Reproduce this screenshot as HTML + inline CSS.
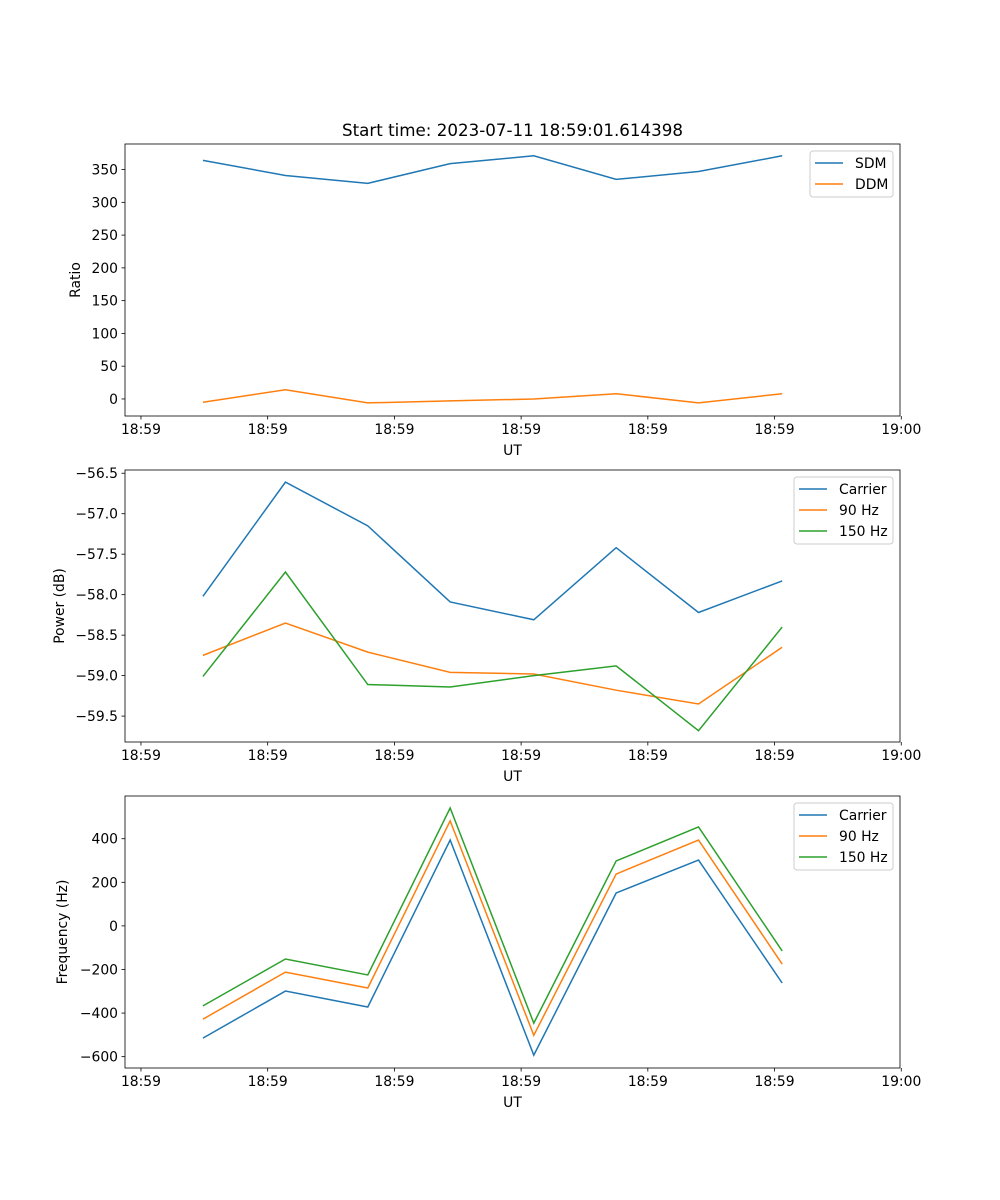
<!DOCTYPE html>
<html><head><meta charset="utf-8"><style>
html,body{margin:0;padding:0;background:#fff}
svg{display:block;font-family:"DejaVu Sans","Liberation Sans",sans-serif}
</style></head><body>
<svg id="fig" width="1000" height="1200" viewBox="0 0 1000 1200">
<text x="512.5" y="136" font-size="16.7" text-anchor="middle">Start time: 2023-07-11 18:59:01.614398</text>
</svg>
<script>
// time of each sample in seconds after 18:59:00
const times = [4.89, 11.4, 17.9, 24.4, 31.0, 37.5, 44.0, 50.6];
const xTickVals = [0, 10, 20, 30, 40, 50, 60];
const xTickLabels = ["18:59","18:59","18:59","18:59","18:59","18:59","19:00"];
const sdm = [364, 341, 329, 359, 371, 335, 347, 371];
const ddm = [-5, 14, -6, -3, 0, 8, -6, 8];
const ratioTicks = [0, 50, 100, 150, 200, 250, 300, 350];
const powCarrier = [-58.02, -56.61, -57.15, -58.09, -58.31, -57.42, -58.22, -57.83];
const pow90 = [-58.75, -58.35, -58.71, -58.96, -58.98, -59.18, -59.35, -58.65];
const pow150 = [-59.01, -57.72, -59.11, -59.14, -59.00, -58.88, -59.68, -58.40];
const powTicks = [-59.5, -59.0, -58.5, -58.0, -57.5, -57.0, -56.5];
const freqCarrier = [-515, -299, -372, 394, -593, 151, 302, -262];
const freq90 = [-428, -212, -285, 482, -502, 238, 394, -175];
const freq150 = [-367, -152, -225, 541, -446, 298, 454, -115];
const freqTicks = [-600, -400, -200, 0, 200, 400];

const NS = "http://www.w3.org/2000/svg";
const svg = document.getElementById('fig');
const C = ['#1f77b4', '#ff7f0e', '#2ca02c'];
function mk(tag, attrs, parent) {
  const e = document.createElementNS(NS, tag);
  for (const k in attrs) e.setAttribute(k, attrs[k]);
  (parent || svg).appendChild(e);
  return e;
}
const L = 125, R = 900, XMIN = -1.26, XMAX = 59.9;
const xs = t => L + (t - XMIN) / (XMAX - XMIN) * (R - L);

function panel(key, top, bottom, ymin, ymax, yTicks, yFmt, ylabel, series, names, legend) {
  const g = mk('g', {});
  
  
  const ys = v => bottom - (v - ymin) / (ymax - ymin) * (bottom - top);
  series.forEach((s, i) => {
    const p = mk('polyline', {points: s.map((v, j) => xs(times[j]) + ',' + ys(v)).join(' '), fill: 'none', stroke: C[i], 'stroke-width': 1.5}, g);
    
    
  });
  const fr = mk('rect', {x: L, y: top, width: R - L, height: bottom - top, fill: 'none', stroke: '#000', 'stroke-width': 0.8}, g);
  
  
  xTickVals.forEach((t, i) => {
    const x = xs(t);
    mk('line', {x1: x, x2: x, y1: bottom, y2: bottom + 3.5, stroke: '#000', 'stroke-width': 0.8}, g);
    const tx = mk('text', {x: x, y: bottom + 18, 'font-size': 13.9, 'text-anchor': 'middle'}, g);
    tx.textContent = xTickLabels[i];
    
    
  });
  const xl = mk('text', {x: (L + R) / 2, y: bottom + 39, 'font-size': 13.9, 'text-anchor': 'middle'}, g);
  xl.textContent = 'UT';
  
  
  yTicks.forEach(v => {
    const y = ys(v);
    mk('line', {x1: L - 3.5, x2: L, y1: y, y2: y, stroke: '#000', 'stroke-width': 0.8}, g);
    const tx = mk('text', {x: L - 7, y: y + 5, 'font-size': 13.9, 'text-anchor': 'end'}, g);
    tx.textContent = yFmt(v);
    
    
  });
  const yl = mk('text', {x: 0, y: 0, 'font-size': 13.9, 'text-anchor': 'middle', transform: 'translate(' + legend.ylx + ',' + ((top + bottom) / 2) + ') rotate(-90)'}, g);
  yl.textContent = ylabel;
  
  
  const lg = mk('g', {}, g);
  
  
  mk('rect', {x: legend.x, y: top + 7, width: 893 - legend.x, height: names.length * 21 + 4, rx: 3, fill: '#fff', 'fill-opacity': 0.8, stroke: '#ccc', 'stroke-width': 1}, lg);
  names.forEach((n, i) => {
    const y = top + 19 + i * 21;
    mk('line', {x1: legend.x + 5, x2: legend.x + 33, y1: y, y2: y, stroke: C[i], 'stroke-width': 1.5}, lg);
    const t = mk('text', {x: legend.x + 45, y: y + 5, 'font-size': 13.9}, lg);
    t.textContent = n;
    
    
  });
}
const minus = s => s.replace('-', '\u2212');
panel('ratio', 144, 416, -26, 389, ratioTicks, v => minus(String(v)), 'Ratio', [sdm, ddm], ['SDM', 'DDM'], {x: 810, ylx: 80});
panel('power', 470, 742, -59.82, -56.46, powTicks, v => minus(v.toFixed(1)), 'Power (dB)', [powCarrier, pow90, pow150], ['Carrier', '90 Hz', '150 Hz'], {x: 794, ylx: 64});
panel('freq', 796, 1068, -652, 596, freqTicks, v => minus(String(v)), 'Frequency (Hz)', [freqCarrier, freq90, freq150], ['Carrier', '90 Hz', '150 Hz'], {x: 794, ylx: 67});
</script>
</body></html>
